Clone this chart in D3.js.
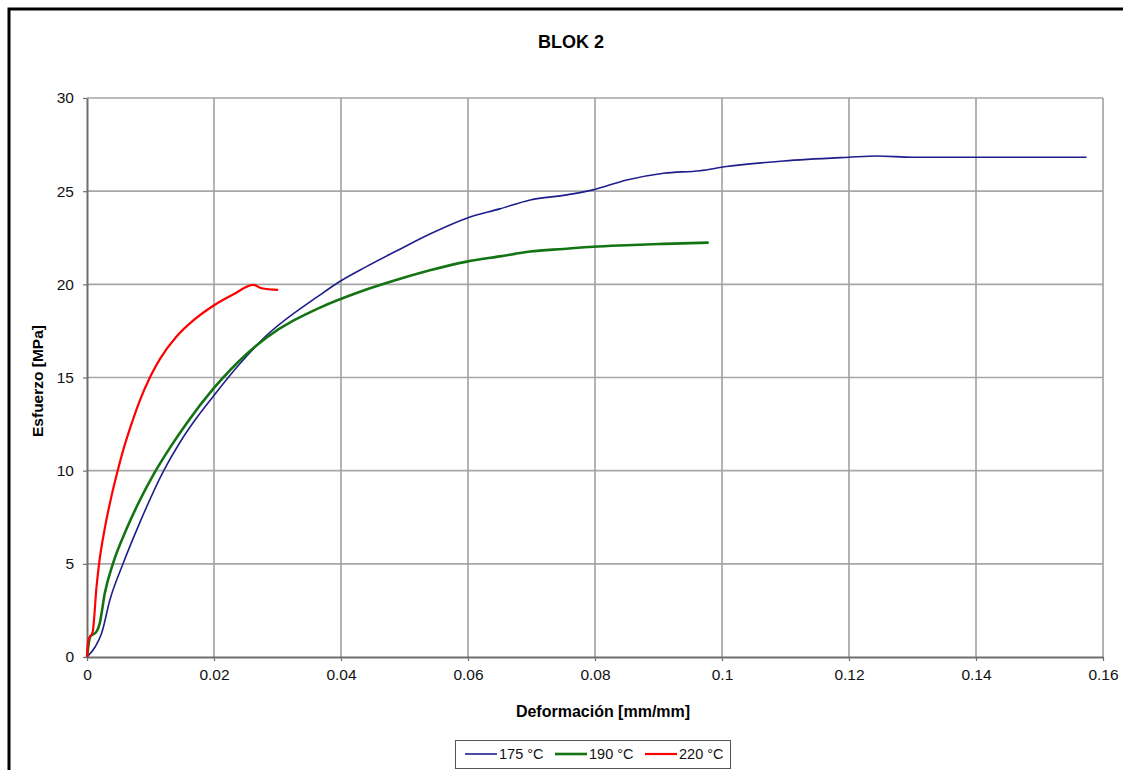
<!DOCTYPE html>
<html>
<head>
<meta charset="utf-8">
<script src="https://cdn.jsdelivr.net/npm/d3@7"></script>
<style>
html,body{margin:0;padding:0;background:#fff;}
svg{display:block;}
</style>
</head>
<body>
<svg id="chart" width="1123" height="770"></svg>
<script>
// ---- data ----
const seriesNames = ["175 °C", "190 °C", "220 °C"];
const seriesColors = ["#1e1e8c", "#137413", "#ff0000"];
const xTicks = [0, 0.02, 0.04, 0.06, 0.08, 0.1, 0.12, 0.14, 0.16];
const xTickLabels = ["0", "0.02", "0.04", "0.06", "0.08", "0.1", "0.12", "0.14", "0.16"];
const yTicks = [0, 5, 10, 15, 20, 25, 30];
const yTickLabels = ["0", "5", "10", "15", "20", "25", "30"];

const s175x = [0, 0.0013, 0.0023, 0.0036, 0.0057, 0.0083, 0.012, 0.0146, 0.0173, 0.0199, 0.0241, 0.0278, 0.0367, 0.0398, 0.044, 0.0488, 0.054, 0.0598, 0.065, 0.0698, 0.0755, 0.0797, 0.085, 0.0908, 0.0965, 0.1007, 0.1097, 0.1199, 0.1244, 0.13, 0.14, 0.15, 0.1574];
const s175y = [0, 0.55, 1.27, 3.06, 5.03, 7.2, 9.95, 11.5, 12.85, 14.0, 15.75, 17.1, 19.43, 20.15, 20.95, 21.8, 22.7, 23.55, 24.05, 24.53, 24.8, 25.07, 25.6, 25.96, 26.1, 26.32, 26.62, 26.82, 26.89, 26.82, 26.82, 26.82, 26.82];

const s190x = [0, 0.0005, 0.0015, 0.002, 0.0028, 0.0041, 0.0062, 0.0083, 0.0104, 0.0131, 0.0157, 0.0199, 0.0251, 0.0283, 0.0367, 0.043, 0.0488, 0.054, 0.0598, 0.065, 0.0698, 0.075, 0.0797, 0.085, 0.0908, 0.0979];
const s190y = [0, 1.09, 1.36, 1.8, 3.42, 5.03, 6.85, 8.4, 9.75, 11.25, 12.55, 14.4, 16.25, 17.15, 18.75, 19.6, 20.24, 20.75, 21.22, 21.5, 21.76, 21.9, 22.02, 22.1, 22.17, 22.24];

const s220x = [0, 0.0002, 0.0009, 0.0015, 0.0019, 0.0028, 0.0038, 0.0048, 0.0057, 0.0069, 0.0083, 0.0099, 0.0115, 0.0141, 0.0167, 0.0199, 0.023, 0.0262, 0.0275, 0.0301];
const s220y = [0, 0.9, 1.36, 3.77, 5.0, 6.9, 8.55, 9.95, 11.1, 12.4, 13.75, 15.0, 16.0, 17.2, 18.05, 18.85, 19.45, 19.97, 19.79, 19.7];

const seriesX = [s175x, s190x, s220x];
const seriesY = [s175y, s190y, s220y];
const seriesWidths = [1.6, 2.6, 2.2];

// ---- drawing ----
(function () {
const svg = d3.select("#chart");
const font = "'Liberation Sans', Arial, sans-serif";
const pLeft = 87, pRight = 1103, pTop = 98, pBottom = 657;

const x = d3.scaleLinear().domain([0, 0.16]).range([pLeft, pRight]);
const y = d3.scaleLinear().domain([0, 30]).range([pBottom, pTop]);

// outer frame
svg.append("rect").attr("x", 9).attr("y", 9).attr("width", 1130).attr("height", 790)
  .attr("fill", "none").attr("stroke", "#000").attr("stroke-width", 3);

// title
svg.append("text").attr("x", 571).attr("y", 48).attr("text-anchor", "middle")
  .attr("font-family", font).attr("font-weight", "bold").attr("font-size", 18)
  .text("BLOK 2");

// grid
const grid = svg.append("g");
grid.selectAll("line.h").data(yTicks.slice(1)).join("line")
  .attr("x1", pLeft).attr("x2", pRight).attr("y1", d => y(d)).attr("y2", d => y(d))
  .attr("stroke", "#a6a6a6").attr("stroke-width", 1.6);
grid.selectAll("line.v").data(xTicks.slice(1)).join("line")
  .attr("y1", pTop).attr("y2", pBottom).attr("x1", d => x(d)).attr("x2", d => x(d))
  .attr("stroke", "#a0a0a0").attr("stroke-width", 1.6);

// axes
const xAxis = d3.axisBottom(x).tickValues(xTicks).tickFormat((d, i) => xTickLabels[i]).tickSize(4).tickSizeOuter(0).tickPadding(8);
const yAxis = d3.axisLeft(y).tickValues(yTicks).tickFormat((d, i) => yTickLabels[i]).tickSize(4).tickSizeOuter(0).tickPadding(9);

const gx = svg.append("g").attr("transform", `translate(0,${pBottom})`).call(xAxis);
const gy = svg.append("g").attr("transform", `translate(${pLeft},0)`).call(yAxis);
[gx, gy].forEach(g => {
  g.select(".domain").attr("stroke", "#6e6e6e").attr("stroke-width", 2);
  g.selectAll(".tick line").attr("stroke", "#6e6e6e").attr("stroke-width", 1.2);
  g.selectAll(".tick text").attr("font-family", font).attr("font-size", 15.5).attr("fill", "#111");
});

// axis titles
svg.append("text").attr("x", 603).attr("y", 717).attr("text-anchor", "middle")
  .attr("font-family", font).attr("font-weight", "bold").attr("font-size", 16)
  .text("Deformación [mm/mm]");
svg.append("text").attr("transform", "translate(43,381) rotate(-90)").attr("text-anchor", "middle")
  .attr("font-family", font).attr("font-weight", "bold").attr("font-size", 15.5)
  .text("Esfuerzo [MPa]");

// series
const line = d3.line().x(d => x(d[0])).y(d => y(d[1])).curve(d3.curveMonotoneX);
seriesNames.forEach((name, i) => {
  const pts = seriesX[i].map((v, j) => [v, seriesY[i][j]]);
  svg.append("path").datum(pts).attr("d", line)
    .attr("fill", "none").attr("stroke", seriesColors[i]).attr("stroke-width", seriesWidths[i])
    .attr("stroke-linejoin", "round");
});

// legend
const lg = svg.append("g");
lg.append("rect").attr("x", 455.5).attr("y", 740.5).attr("width", 275).attr("height", 28)
  .attr("fill", "#fff").attr("stroke", "#555").attr("stroke-width", 1);
const legX = [465, 555, 645];
seriesNames.forEach((name, i) => {
  lg.append("line").attr("x1", legX[i]).attr("x2", legX[i] + 32).attr("y1", 754).attr("y2", 754)
    .attr("stroke", seriesColors[i]).attr("stroke-width", seriesWidths[i]);
  lg.append("text").attr("x", legX[i] + 34).attr("y", 759).attr("font-family", font)
    .attr("font-size", 14.5).attr("fill", "#111").text(name);
});
})();
</script>
</body>
</html>
